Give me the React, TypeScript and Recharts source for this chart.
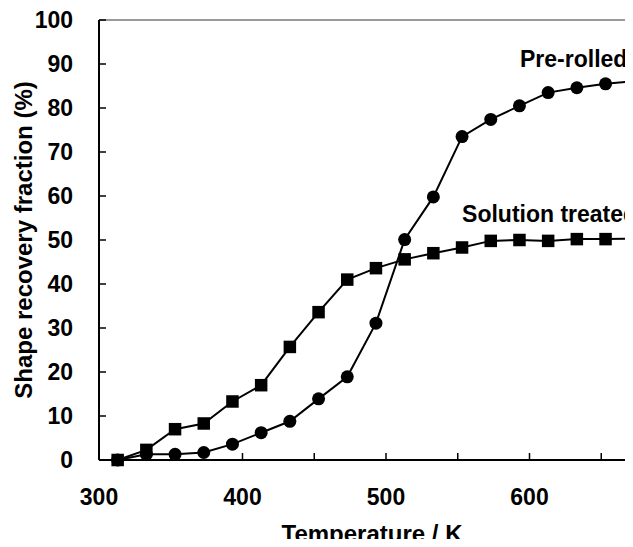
import React from 'react';
import { LineChart, Line, XAxis, YAxis, ReferenceLine, ReferenceDot } from 'recharts';

const temperatures = [313, 333, 353, 373, 393, 413, 433, 453, 473, 493, 513, 533, 553, 573, 593, 613, 633, 653, 673];
const preRolled = [0, 1.3, 1.3, 1.7, 3.6, 6.2, 8.8, 13.9, 18.9, 31.1, 50.1, 59.8, 73.5, 77.4, 80.5, 83.5, 84.6, 85.5, 86.1];
const solutionTreated = [0, 2.3, 7.0, 8.3, 13.3, 17.0, 25.7, 33.6, 41.0, 43.6, 45.6, 47.0, 48.3, 49.8, 50.0, 49.8, 50.2, 50.2, 50.3];
const xTicks = [300, 350, 400, 450, 500, 550, 600, 650, 700];
const xTickLabels = [300, 400, 500, 600];
const yTicks = [0, 10, 20, 30, 40, 50, 60, 70, 80, 90, 100];

const data = temperatures.map((t, i) => ({ t, pre: preRolled[i], sol: solutionTreated[i] }));

const FONT = '"Liberation Sans", Arial, Helvetica, sans-serif';
const FS = 23;
const FS_AXIS = 24;

const XTick = (props: any) => {
  const { x, y, payload } = props;
  const v = payload.value;
  return (
    <g>
      {v > 300 && v < 700 && (
        <line x1={x} x2={x} y1={y} y2={y - 7} stroke="#000" strokeWidth={1.5} />
      )}
      {xTickLabels.includes(v) && (
        <text x={x} y={y + 45} textAnchor="middle" fontFamily={FONT} fontWeight="bold" fontSize={FS} fill="#000">
          {v}
        </text>
      )}
    </g>
  );
};

const YTick = (props: any) => {
  const { x, y, payload } = props;
  const v = payload.value;
  return (
    <g>
      {v > 0 && <line x1={x} x2={x + 7} y1={y} y2={y} stroke="#000" strokeWidth={1.5} />}
      <text x={x - 26} y={y} dy="0.36em" textAnchor="end" fontFamily={FONT} fontWeight="bold" fontSize={FS} fill="#000">
        {v}
      </text>
    </g>
  );
};

const SquareDot = (props: any) => {
  const { cx, cy, index } = props;
  if (cx == null || cy == null) return <g key={index} />;
  const s = 12.5;
  return <rect key={index} x={cx - s / 2} y={cy - s / 2} width={s} height={s} fill="#000" stroke="none" />;
};

const textLabel = (text: string) => (props: any) => {
  const vb = props.viewBox || {};
  return (
    <text x={vb.x} y={vb.y} textAnchor="start" fontFamily={FONT} fontWeight="bold" fontSize={FS} fill="#000">
      {text}
    </text>
  );
};

export default function App() {
  return (
    <div style={{ margin: -8, width: 633, height: 547, overflow: 'hidden', background: '#fff' }}>
      <LineChart width={700} height={547} data={data} margin={{ top: 20, right: 27, bottom: 0, left: 0 }}>
        <XAxis
          dataKey="t"
          type="number"
          domain={[300, 700]}
          ticks={xTicks}
          interval={0}
          tickSize={0}
          tickMargin={0}
          tickLine={false}
          axisLine={{ stroke: '#000', strokeWidth: 2 }}
          tick={<XTick />}
          height={87}
          label={(p: any) => {
            const vb = p.viewBox || { x: 99, y: 460, width: 574 };
            return (
              <text x={vb.x + vb.width / 2 - 14} y={vb.y + 82} textAnchor="middle" fontFamily={FONT} fontWeight="bold" fontSize={FS_AXIS} fill="#000">
                Temperature / K
              </text>
            );
          }}
        />
        <YAxis
          type="number"
          domain={[0, 100]}
          ticks={yTicks}
          interval={0}
          tickSize={0}
          tickMargin={0}
          tickLine={false}
          axisLine={{ stroke: '#000', strokeWidth: 2 }}
          tick={<YTick />}
          width={99}
          label={(p: any) => {
            const vb = p.viewBox || { x: 0, y: 20, height: 440 };
            const cx = 32;
            const cy = vb.y + vb.height / 2;
            return (
              <text x={cx} y={cy} transform={`rotate(-90 ${cx} ${cy})`} textAnchor="middle" fontFamily={FONT} fontWeight="bold" fontSize={FS_AXIS} fill="#000">
                Shape recovery fraction (%)
              </text>
            );
          }}
        />
        <ReferenceLine y={100} stroke="#9a9a9a" strokeWidth={2} ifOverflow="extendDomain" />
        <ReferenceLine x={700} stroke="#9a9a9a" strokeWidth={2} />
        <Line
          dataKey="pre"
          stroke="#000"
          strokeWidth={2}
          dot={{ r: 6.5, fill: '#000', stroke: 'none' }}
          isAnimationActive={false}
        />
        <Line
          dataKey="sol"
          stroke="#000"
          strokeWidth={2}
          dot={<SquareDot />}
          isAnimationActive={false}
        />
        <ReferenceDot x={593.4} y={89.3} r={0} fill="none" stroke="none" label={textLabel('Pre-rolled')} />
        <ReferenceDot x={553} y={54.1} r={0} fill="none" stroke="none" label={textLabel('Solution treated')} />
      </LineChart>
    </div>
  );
}
